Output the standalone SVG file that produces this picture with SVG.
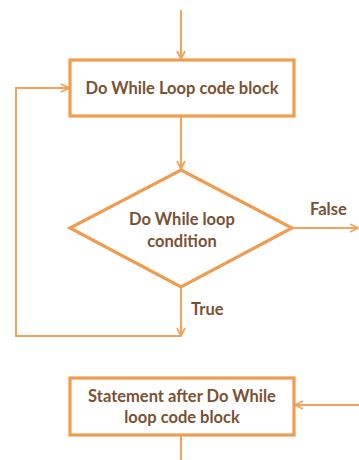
<svg xmlns="http://www.w3.org/2000/svg" width="359" height="460" viewBox="0 0 359 460">
<style>
.shape{fill:#fff;stroke:#ee9c4f;stroke-width:3.2}
.line{fill:none;stroke:#f0a45c;stroke-width:2}
.t{font-family:Lato,"Open Sans",sans-serif;font-weight:bold;font-size:16.5px;fill:#7a5233;text-anchor:middle}
.lbl{font-family:Lato,"Open Sans",sans-serif;font-weight:bold;font-size:16.5px;fill:#7a5233}
</style>
<defs>
<marker id="ah" viewBox="0 0 10 10" refX="9" refY="5" markerWidth="10" markerHeight="10" markerUnits="userSpaceOnUse" orient="auto">
<polyline points="1,1 9,5 1,9" fill="none" stroke="#f0a45c" stroke-width="1.8"/>
</marker>
</defs>
<rect width="359" height="460" fill="#fff"/>
<g id="connectors">
<line class="line" x1="181" y1="10" x2="181" y2="59" marker-end="url(#ah)"/>
<line class="line" x1="181" y1="117" x2="181" y2="169" marker-end="url(#ah)"/>
<polyline class="line" points="292,228 358,228" marker-end="url(#ah)"/>
<line class="line" x1="181" y1="288" x2="181" y2="336" marker-end="url(#ah)"/>
<polyline class="line" points="181,336 16,336 16,88 69,88" marker-end="url(#ah)"/>
<line class="line" x1="359" y1="405" x2="295" y2="405" marker-end="url(#ah)"/>
<line class="line" x1="181" y1="436" x2="181" y2="460"/>
</g>
<g id="block">
<rect class="shape" x="70" y="60" width="224" height="56"/>
<text class="t" x="182" y="94">Do While Loop code block</text>
</g>
<g id="condition">
<polygon class="shape" points="181,170 292,228 181,287 70,228"/>
<text class="t" x="182" y="225">Do While loop</text>
<text class="t" x="182" y="247">condition</text>
</g>
<g id="labels">
<text class="lbl" x="310" y="215">False</text>
<text class="lbl" x="191" y="315">True</text>
</g>
<g id="after">
<rect class="shape" x="70" y="378" width="224" height="57"/>
<text class="t" x="182" y="402">Statement after Do While</text>
<text class="t" x="182" y="423">loop code block</text>
</g>
</svg>
